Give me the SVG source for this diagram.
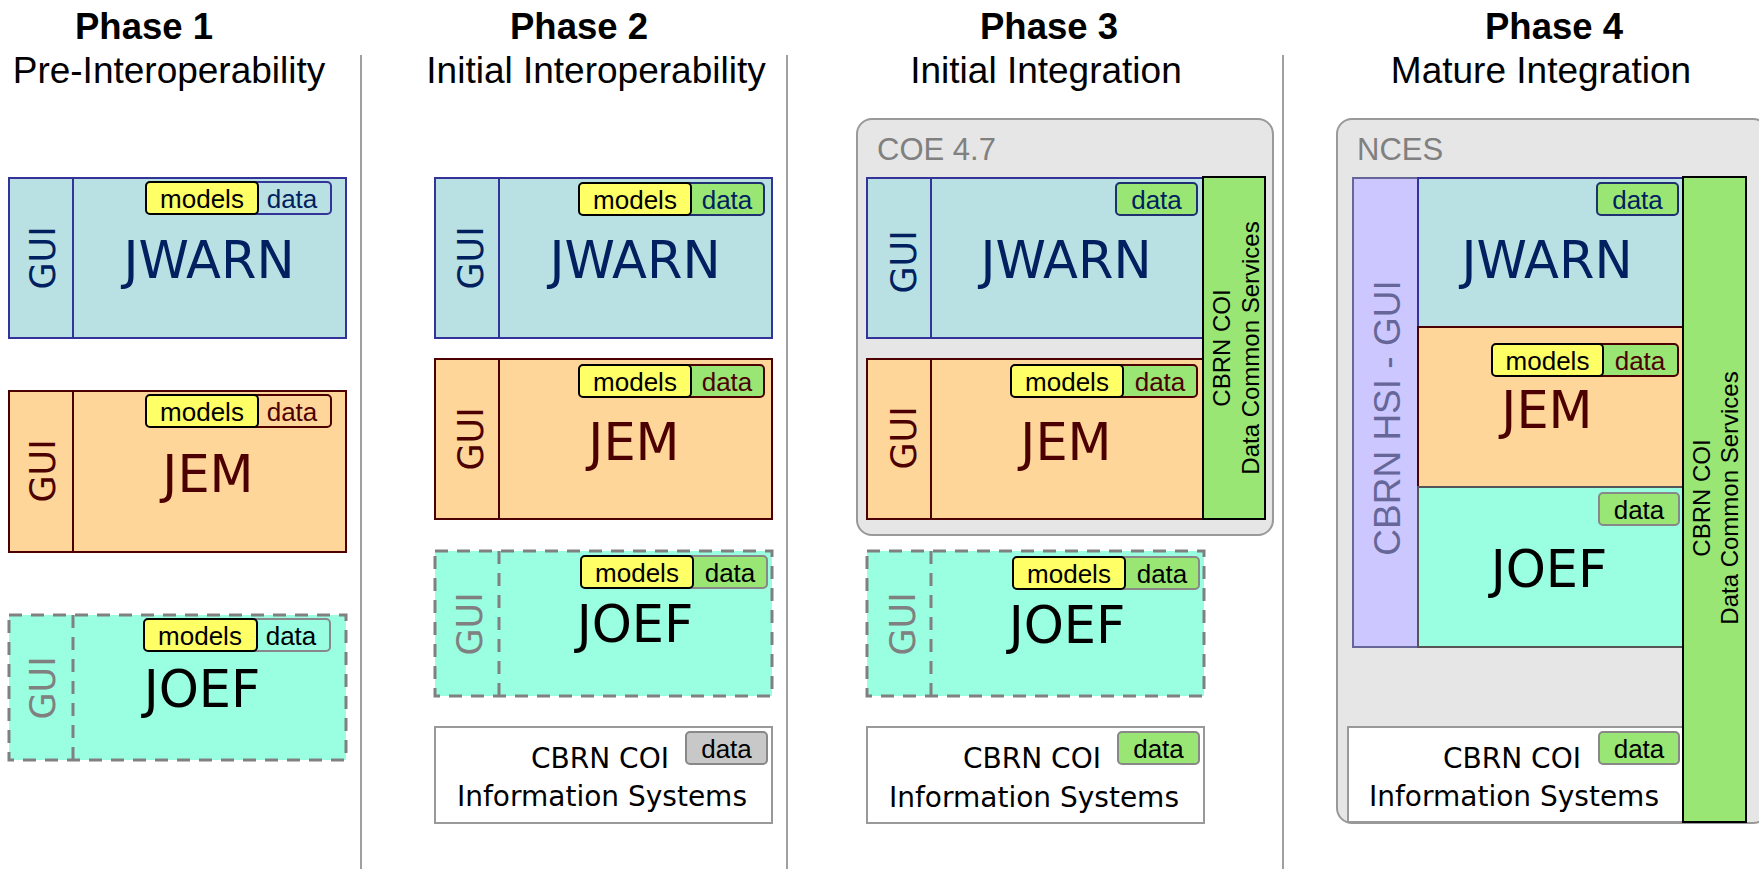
<svg xmlns="http://www.w3.org/2000/svg" width="1759" height="869" viewBox="0 0 1759 869">
<style>
.hd{font-family:"Liberation Sans",Arial,sans-serif;font-size:36.5px;font-weight:bold;text-anchor:middle;fill:#000}
.sub{font-family:"Liberation Sans",Arial,sans-serif;font-size:37px;text-anchor:middle;fill:#000}
.ttl{font-family:"DejaVu Sans",sans-serif;font-size:51px;text-anchor:middle}
.gui{font-family:"DejaVu Sans",sans-serif;font-size:35px;text-anchor:middle}
.pt{font-family:"Liberation Sans",Arial,sans-serif;font-size:26px;text-anchor:middle}
.info{font-family:"DejaVu Sans",sans-serif;font-size:28px;text-anchor:middle;fill:#000}
.vt{font-family:"Liberation Sans",Arial,sans-serif;font-size:24px;text-anchor:middle;fill:#000}
.cont{font-family:"Liberation Sans",Arial,sans-serif;font-size:31px;fill:#808080}
.jw{fill:#b9e0e2;stroke:#333399;stroke-width:2}
.je{fill:#ffd699;stroke:#4d0000;stroke-width:2}
.jo{fill:#99ffe0;stroke:#808080;stroke-width:3;stroke-dasharray:13 9}
.jo4{fill:#99ffe0;stroke:#555;stroke-width:2}
.nv{fill:#002060}.mr{fill:#4d0000}.bk{fill:#000}.gy{fill:#808080}
.mod{fill:#ffff66;stroke:#000;stroke-width:2}
.grn{fill:#99e675}
.ib{fill:#fff;stroke:#999;stroke-width:2}
.bar{fill:#99e675;stroke:#000;stroke-width:2}
.box{fill:#e6e6e6;stroke:#999;stroke-width:2}
.div{stroke:#a0a0a0;stroke-width:2}
</style>

<g id="headings">
<text class="hd" x="144" y="39">Phase 1</text>
<text class="sub" x="169" y="83">Pre-Interoperability</text>
<text class="hd" x="579" y="39">Phase 2</text>
<text class="sub" x="596" y="83">Initial Interoperability</text>
<text class="hd" x="1049" y="39">Phase 3</text>
<text class="sub" x="1046" y="83">Initial Integration</text>
<text class="hd" x="1554" y="39">Phase 4</text>
<text class="sub" x="1541" y="83">Mature Integration</text>
</g>

<g id="dividers">
<line class="div" x1="361" y1="55" x2="361" y2="869"/>
<line class="div" x1="787" y1="55" x2="787" y2="869"/>
<line class="div" x1="1283" y1="55" x2="1283" y2="869"/>
</g>

<!-- Phase 1 -->
<g id="p1-jwarn">
<rect class="jw" x="9" y="178" width="337" height="160"/>
<line x1="73" y1="178" x2="73" y2="338" stroke="#333399" stroke-width="2"/>
<text class="gui nv" transform="translate(55,258) rotate(-90)">GUI</text>
<text class="ttl nv" x="209" y="278">JWARN</text>
<rect x="250" y="182" width="81" height="32" rx="4" fill="none" stroke="#333399" stroke-width="2"/>
<rect class="mod" x="146" y="182" width="112" height="32" rx="4"/>
<text class="pt bk" x="202" y="208">models</text>
<text class="pt nv" x="292" y="208">data</text>
</g>
<g id="p1-jem">
<rect class="je" x="9" y="391" width="337" height="161"/>
<line x1="73" y1="391" x2="73" y2="552" stroke="#4d0000" stroke-width="2"/>
<text class="gui mr" transform="translate(55,471) rotate(-90)">GUI</text>
<text class="ttl mr" x="208" y="492">JEM</text>
<rect x="250" y="395" width="81" height="32" rx="4" fill="none" stroke="#4d0000" stroke-width="2"/>
<rect class="mod" x="146" y="395" width="112" height="32" rx="4"/>
<text class="pt bk" x="202" y="421">models</text>
<text class="pt mr" x="292" y="421">data</text>
</g>
<g id="p1-joef">
<rect class="jo" x="9" y="615" width="337" height="145"/>
<line x1="73" y1="615" x2="73" y2="760" stroke="#808080" stroke-width="3" stroke-dasharray="13 9"/>
<text class="gui gy" transform="translate(55,688) rotate(-90)">GUI</text>
<text class="ttl bk" x="202" y="707">JOEF</text>
<rect x="249" y="619" width="81" height="32" rx="4" fill="none" stroke="#888" stroke-width="2"/>
<rect class="mod" x="144" y="619" width="113" height="32" rx="4"/>
<text class="pt bk" x="200" y="645">models</text>
<text class="pt bk" x="291" y="645">data</text>
</g>

<!-- Phase 2 -->
<g id="p2-jwarn">
<rect class="jw" x="435" y="178" width="337" height="160"/>
<line x1="499" y1="178" x2="499" y2="338" stroke="#333399" stroke-width="2"/>
<text class="gui nv" transform="translate(483,258) rotate(-90)">GUI</text>
<text class="ttl nv" x="635" y="278">JWARN</text>
<rect class="grn" x="683" y="183" width="81" height="32" rx="4" stroke="#1f2f6f" stroke-width="2"/>
<rect class="mod" x="579" y="183" width="112" height="32" rx="4"/>
<text class="pt bk" x="635" y="209">models</text>
<text class="pt nv" x="727" y="209">data</text>
</g>
<g id="p2-jem">
<rect class="je" x="435" y="359" width="337" height="160"/>
<line x1="499" y1="359" x2="499" y2="519" stroke="#4d0000" stroke-width="2"/>
<text class="gui mr" transform="translate(483,439) rotate(-90)">GUI</text>
<text class="ttl mr" x="634" y="460">JEM</text>
<rect class="grn" x="683" y="365" width="81" height="32" rx="4" stroke="#4d0000" stroke-width="2"/>
<rect class="mod" x="579" y="365" width="112" height="32" rx="4"/>
<text class="pt bk" x="635" y="391">models</text>
<text class="pt mr" x="727" y="391">data</text>
</g>
<g id="p2-joef">
<rect class="jo" x="435" y="551" width="337" height="145"/>
<line x1="499" y1="551" x2="499" y2="696" stroke="#808080" stroke-width="3" stroke-dasharray="13 9"/>
<text class="gui gy" transform="translate(482,624) rotate(-90)">GUI</text>
<text class="ttl bk" x="635" y="642">JOEF</text>
<rect class="grn" x="685" y="556" width="82" height="32" rx="4" stroke="#888" stroke-width="2"/>
<rect class="mod" x="581" y="556" width="112" height="32" rx="4"/>
<text class="pt bk" x="637" y="582">models</text>
<text class="pt bk" x="730" y="582">data</text>
</g>
<g id="p2-cbrn">
<rect class="ib" x="435" y="727" width="337" height="96"/>
<rect x="686" y="732" width="81" height="32" rx="4" fill="#c8c8c8" stroke="#888" stroke-width="2"/>
<text class="pt bk" x="726.5" y="758">data</text>
<text class="info" x="600" y="768">CBRN COI</text>
<text class="info" x="602" y="806">Information Systems</text>
</g>

<!-- Phase 3 -->
<g id="p3-coe">
<rect class="box" x="857" y="119" width="416" height="416" rx="15"/>
<text class="cont" x="877" y="160">COE 4.7</text>
</g>
<g id="p3-jwarn">
<rect class="jw" x="867" y="178" width="336" height="160"/>
<line x1="931" y1="178" x2="931" y2="338" stroke="#333399" stroke-width="2"/>
<text class="gui nv" transform="translate(916,262) rotate(-90)">GUI</text>
<text class="ttl nv" x="1066" y="278">JWARN</text>
<rect class="grn" x="1116" y="183" width="81" height="32" rx="4" stroke="#1f2f6f" stroke-width="2"/>
<text class="pt nv" x="1156.5" y="209">data</text>
</g>
<g id="p3-jem">
<rect class="je" x="867" y="359" width="336" height="160"/>
<line x1="931" y1="359" x2="931" y2="519" stroke="#4d0000" stroke-width="2"/>
<text class="gui mr" transform="translate(916,438) rotate(-90)">GUI</text>
<text class="ttl mr" x="1066" y="460">JEM</text>
<rect class="grn" x="1115" y="365" width="82" height="32" rx="4" stroke="#4d0000" stroke-width="2"/>
<rect class="mod" x="1011" y="365" width="112" height="32" rx="4"/>
<text class="pt bk" x="1067" y="391">models</text>
<text class="pt mr" x="1160" y="391">data</text>
</g>
<g id="p3-cds">
<rect class="bar" x="1203" y="177" width="62" height="342"/>
<text class="vt" transform="translate(1230,348) rotate(-90)">CBRN COI</text>
<text class="vt" transform="translate(1259,348) rotate(-90)">Data Common Services</text>
</g>
<g id="p3-joef">
<rect class="jo" x="867" y="551" width="337" height="145"/>
<line x1="931" y1="551" x2="931" y2="696" stroke="#808080" stroke-width="3" stroke-dasharray="13 9"/>
<text class="gui gy" transform="translate(915,624) rotate(-90)">GUI</text>
<text class="ttl bk" x="1067" y="643">JOEF</text>
<rect class="grn" x="1117" y="557" width="82" height="32" rx="4" stroke="#888" stroke-width="2"/>
<rect class="mod" x="1013" y="557" width="112" height="32" rx="4"/>
<text class="pt bk" x="1069" y="583">models</text>
<text class="pt bk" x="1162" y="583">data</text>
</g>
<g id="p3-cbrn">
<rect class="ib" x="867" y="727" width="337" height="96"/>
<rect class="grn" x="1118" y="732" width="81" height="32" rx="4" stroke="#888" stroke-width="2"/>
<text class="pt bk" x="1158.5" y="758">data</text>
<text class="info" x="1032" y="768">CBRN COI</text>
<text class="info" x="1034" y="807">Information Systems</text>
</g>

<!-- Phase 4 -->
<g id="p4-nces">
<rect class="box" x="1337" y="119" width="431" height="704" rx="15"/>
<text class="cont" x="1357" y="160">NCES</text>
</g>
<g id="p4-hsi">
<rect x="1353" y="178" width="65" height="469" fill="#ccc8ff" stroke="#666699" stroke-width="2"/>
<text transform="translate(1400,418) rotate(-90)" style="font-family:'Liberation Sans',Arial,sans-serif;font-size:37px;text-anchor:middle;fill:#666699">CBRN HSI - GUI</text>
</g>
<g id="p4-jwarn">
<rect class="jw" x="1418" y="178" width="265" height="149"/>
<text class="ttl nv" x="1547" y="278">JWARN</text>
<rect class="grn" x="1597" y="183" width="81" height="32" rx="4" stroke="#1f2f6f" stroke-width="2"/>
<text class="pt nv" x="1637.5" y="209">data</text>
</g>
<g id="p4-jem">
<rect class="je" x="1418" y="327" width="265" height="160"/>
<text class="ttl mr" x="1547" y="428">JEM</text>
<rect class="grn" x="1595" y="344" width="83" height="32" rx="4" stroke="#4d0000" stroke-width="2"/>
<rect class="mod" x="1492" y="344" width="111" height="32" rx="4"/>
<text class="pt bk" x="1547.5" y="370">models</text>
<text class="pt mr" x="1640" y="370">data</text>
</g>
<g id="p4-joef">
<rect class="jo4" x="1418" y="487" width="265" height="160"/>
<text class="ttl bk" x="1549" y="587">JOEF</text>
<rect class="grn" x="1599" y="493" width="80" height="32" rx="4" stroke="#888" stroke-width="2"/>
<text class="pt bk" x="1639" y="519">data</text>
</g>
<g id="p4-cbrn">
<rect class="ib" x="1348" y="727" width="336" height="95"/>
<rect class="grn" x="1599" y="732" width="80" height="32" rx="4" stroke="#888" stroke-width="2"/>
<text class="pt bk" x="1639" y="758">data</text>
<text class="info" x="1512" y="768">CBRN COI</text>
<text class="info" x="1514" y="806">Information Systems</text>
</g>
<g id="p4-cds">
<rect class="bar" x="1683" y="177" width="63" height="645"/>
<text class="vt" transform="translate(1710,498) rotate(-90)">CBRN COI</text>
<text class="vt" transform="translate(1738,498) rotate(-90)">Data Common Services</text>
</g>
<g id="connectors"/>
</svg>
